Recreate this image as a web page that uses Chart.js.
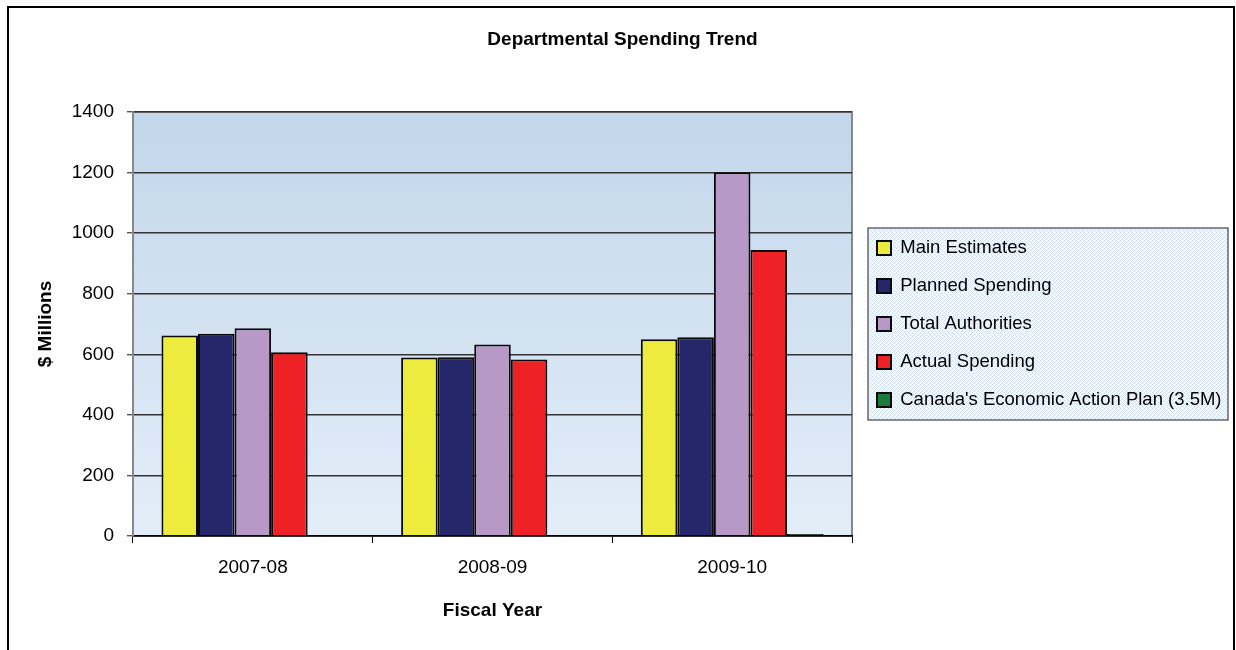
<!DOCTYPE html>
<html>
<head>
<meta charset="utf-8">
<title>Departmental Spending Trend</title>
<script src="https://cdn.jsdelivr.net/npm/chart.js@4.4.1/dist/chart.umd.min.js"></script>
<style>
  body { margin: 0; background: #fff; }
  canvas { display: block; }
</style>
</head>
<body>
<canvas id="spendingChart" width="1236" height="650"></canvas>
<script>
/* Data */
const fiscal_years = ['2007-08', '2008-09', '2009-10'];

const main_estimates = [662, 589, 650];
const planned_spending = [668, 590, 656];
const total_authorities = [686, 632, 1201];
const actual_spending = [607, 583, 944];
const action_plan = [null, null, 3.5];

const y_ticks = [0, 200, 400, 600, 800, 1000, 1200, 1400];

/* Legend background pattern (light blue crosshatch) */
const pat_canvas = document.createElement('canvas');
pat_canvas.width = 4;
pat_canvas.height = 4;
const pctx = pat_canvas.getContext('2d');
pctx.fillStyle = '#f6f9fd';
pctx.fillRect(0, 0, 4, 4);
pctx.fillStyle = '#cadcf0';
pctx.fillRect(0, 0, 1, 1);
pctx.fillRect(2, 2, 1, 1);
pctx.fillStyle = '#dde8f5';
pctx.fillRect(1, 1, 1, 1);
pctx.fillRect(3, 3, 1, 1);
pctx.fillRect(1, 3, 1, 1);
pctx.fillRect(3, 1, 1, 1);

Chart.defaults.font.family = '"Liberation Sans", Arial, sans-serif';
Chart.defaults.font.size = 19;
Chart.defaults.color = '#000';

const LEGEND_W = 384;
const LEGEND_SHIFT = 5.5;

const backdrop = {
    id: 'backdrop',
    afterInit(chart) {
        const lg = chart.legend;
        const fit = lg.fit;
        lg.fit = function () {
            fit.call(this);
            this.width = LEGEND_W;
        };
    },
    afterLayout(chart) {
        chart.legend.left += LEGEND_SHIFT;
        chart.legend.right += LEGEND_SHIFT;
    },
    beforeDraw(chart) {
        const ctx = chart.ctx;
        const a = chart.chartArea;
        ctx.save();
        ctx.fillStyle = '#fff';
        ctx.fillRect(0, 0, chart.width, chart.height);

        // outer frame
        ctx.strokeStyle = '#000';
        ctx.lineWidth = 2;
        ctx.strokeRect(8, 7, chart.width - 10, chart.height + 20);

        // plot area
        const grad = ctx.createLinearGradient(0, a.top, 0, a.bottom);
        grad.addColorStop(0, '#c2d7eb');
        grad.addColorStop(1, '#e3edf8');
        ctx.fillStyle = grad;
        ctx.fillRect(a.left, a.top, a.right - a.left, a.bottom - a.top);
        ctx.strokeStyle = '#888';
        ctx.lineWidth = 2;
        ctx.strokeRect(a.left, a.top, a.right - a.left, a.bottom - a.top);

        // legend box
        const cy = (a.top + a.bottom) / 2;
        const bx = a.right + 16;
        const bw = chart.width - 8 - bx;
        ctx.fillStyle = ctx.createPattern(pat_canvas, 'repeat');
        ctx.fillRect(bx, cy - 96, bw, 192);
        ctx.strokeStyle = '#444';
        ctx.lineWidth = 1.2;
        ctx.strokeRect(bx, cy - 96, bw, 192);
        ctx.restore();
    }
};

const bar_style = (label, data, color) => ({
    label: label,
    data: data,
    backgroundColor: color,
    borderColor: '#0a0a0a',
    borderWidth: 2,
    categoryPercentage: 0.7625,
    barPercentage: 1.0
});

const ceap = bar_style("Canada's Economic Action Plan (3.5M)", action_plan, '#1b7b3c');
ceap.minBarLength = 2;

/* Create chart */
const my_chart = new Chart('spendingChart', {
    type: 'bar',
    data: {
        labels: fiscal_years,
        datasets: [
            bar_style('Main Estimates', main_estimates, '#eceb3e'),
            bar_style('Planned Spending', planned_spending, '#26266a'),
            bar_style('Total Authorities', total_authorities, '#b898c6'),
            bar_style('Actual Spending', actual_spending, '#ee2224'),
            ceap
        ]
    },
    options: {
        responsive: false,
        animation: false,
        layout: {
            padding: { left: 9, right: 0, top: 0, bottom: 0 }
        },
        scales: {
            x: {
                grid: {
                    offset: true,
                    drawOnChartArea: false,
                    color: '#000',
                    tickLength: 7
                },
                border: { color: '#000', width: 1.5 },
                ticks: { padding: 13.6, font: { size: 19 } },
                title: {
                    display: true,
                    text: 'Fiscal Year',
                    font: { size: 19, weight: 'bold' },
                    padding: { top: 0, bottom: 27.6 }
                },
                afterFit(scale) { scale.height = 114; }
            },
            y: {
                min: 0,
                max: 1400,
                afterBuildTicks(scale) {
                    scale.ticks = y_ticks.map(v => ({ value: v }));
                },
                grid: {
                    color: '#333',
                    lineWidth: 1.4,
                    tickColor: '#555',
                    tickLength: 6
                },
                border: { color: '#888', width: 2 },
                ticks: {
                    padding: 13,
                    font: { size: 19 },
                    callback: v => String(v)
                },
                title: {
                    display: true,
                    text: '$ Millions',
                    font: { size: 19, weight: 'bold' },
                    padding: { top: 25, bottom: 0 }
                },
                afterFit(scale) { scale.width = 124; }
            }
        },
        plugins: {
            title: {
                display: true,
                text: 'Departmental Spending Trend',
                font: { size: 19, weight: 'bold' },
                padding: { top: 28.6, bottom: 60.6 }
            },
            legend: {
                position: 'right',
                fullSize: false,
                labels: {
                    boxWidth: 14,
                    boxHeight: 14,
                    padding: 19.5,
                    font: { size: 18.5 }
                }
            },
            tooltip: { enabled: false }
        }
    },
    plugins: [backdrop]
});
</script>
</body>
</html>
